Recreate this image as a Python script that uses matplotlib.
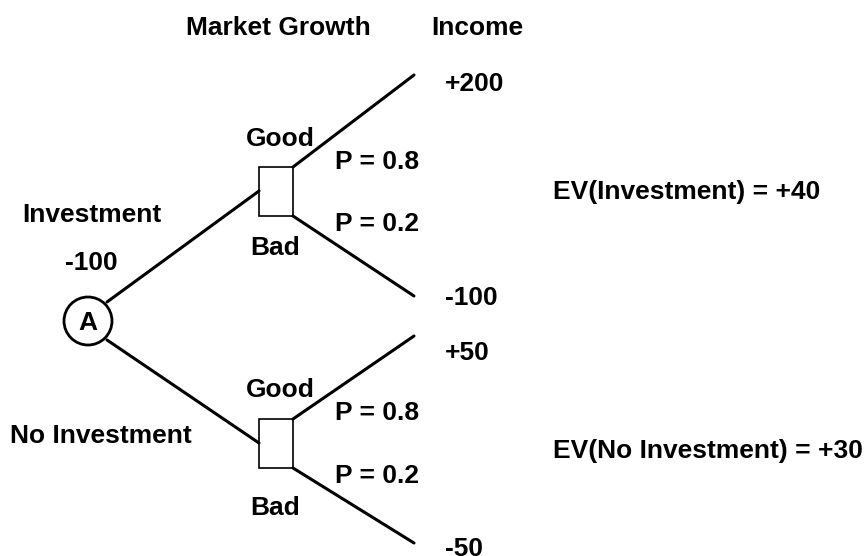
import matplotlib
matplotlib.use("Agg")
import matplotlib.pyplot as plt
from matplotlib.patches import Circle, Rectangle

# Decision tree data
decisions = ["Investment", "No Investment"]
decision_costs = ["-100", ""]
outcomes = ["Good", "Bad"]
probabilities = [0.8, 0.2]
incomes = [["+200", "-100"], ["+50", "-50"]]
expected_values = ["+40", "+30"]
headers = ["Market Growth", "Income"]

plt.rcParams['font.family'] = ['Liberation Sans', 'DejaVu Sans']
FS = 19

fig = plt.figure(figsize=(8.65, 5.56), dpi=100)
ax = fig.add_axes([0, 0, 1, 1])
ax.set_xlim(0, 865)
ax.set_ylim(556, 0)
ax.axis('off')

def txt(x, y, s, ha='center'):
    # y is the visual centre of capitals
    ax.text(x, y + 2, s, ha=ha, va='center', fontsize=FS, fontweight='bold', color='black')

# Root node
cx, cy, r = 88, 321, 24
ax.add_patch(Circle((cx, cy), r, fill=False, lw=2.0, ec='black', zorder=3))
txt(cx, cy, "A")

# Headers
txt(278, 26, headers[0])
txt(477, 26, headers[1])

box_y = [191, 443]          # centre of chance boxes
ev_y = [190, 449]
label_pos = [(92, 213), (101, 434)]
good_y = [137, 388]
bad_y = [246, 506]
p_y = [(160, 222), (411, 474)]
inc_y = [(82, 296), (351, 547)]
for i, name in enumerate(decisions):
    by = box_y[i]
    bx0, bx1 = 259, 293
    top, bot = by - 24, by + 25
    # branch from root to box
    sign = -1 if i == 0 else 1
    ax.plot([cx + 19, bx0], [cy + sign * 19, by], color='black', lw=2.2, solid_capstyle='round')
    ax.add_patch(Rectangle((bx0, top), bx1 - bx0, bot - top, fill=False, lw=1.2, ec='black', zorder=3))
    # outcome branches
    ends = [top - 92, bot + 80] if i == 0 else [top - 83, bot + 75]
    ax.plot([bx1, 414], [top, ends[0]], color='black', lw=2.2, solid_capstyle='round')
    ax.plot([bx1, 414], [bot, ends[1]], color='black', lw=2.2, solid_capstyle='round')
    # labels
    txt(*label_pos[i], name)
    if decision_costs[i]:
        txt(91, 261, decision_costs[i])
    txt(280, good_y[i], outcomes[0])
    txt(275, bad_y[i], outcomes[1])
    txt(335, p_y[i][0], f"P = {probabilities[0]}", ha='left')
    txt(335, p_y[i][1], f"P = {probabilities[1]}", ha='left')
    txt(445, inc_y[i][0], incomes[i][0], ha='left')
    txt(445, inc_y[i][1], incomes[i][1], ha='left')
    txt(553, ev_y[i], f"EV({name}) = {expected_values[i]}", ha='left')

fig.savefig("out.png", dpi=100)
